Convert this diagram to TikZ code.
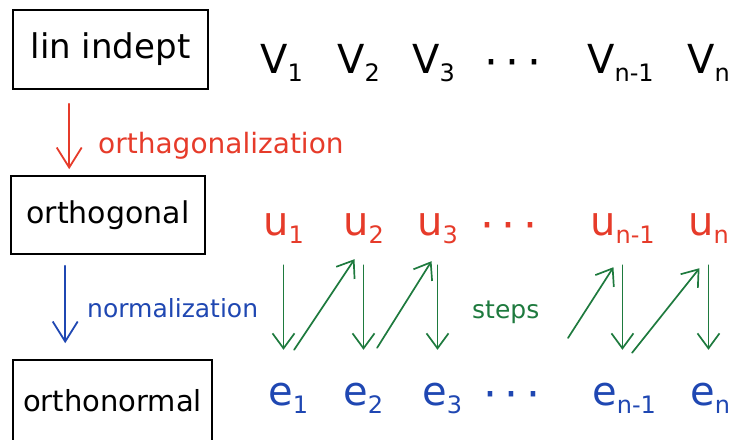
\documentclass[tikz,border=0pt]{standalone}
\usepackage{fontspec}
\setmainfont{DejaVu Sans}
\usetikzlibrary{arrows.meta,calc}
\definecolor{redink}{HTML}{E63B2A}
\definecolor{blueink}{HTML}{1F47B2}
\definecolor{greenink}{HTML}{1E7A3E}
\newcommand\sub[1]{\raisebox{-8pt}{\fontsize{24}{24}\selectfont #1}}
\tikzset{box/.style={draw,line width=1.6pt,inner sep=0pt,font=\fontsize{30}{30}\selectfont},
  sym/.style={inner sep=0pt,anchor=base west,text height=24pt,text depth=8pt,font=\fontsize{40}{40}\selectfont},
  dots/.style={inner sep=0pt,anchor=base,font=\fontsize{44}{44}\selectfont},
  lbl/.style={inner sep=0pt,anchor=base west,font=\fontsize{27}{27}\selectfont},
  arr/.style={line width=1.8pt,line cap=round,-{Straight Barb[length=20pt,width=25pt,line width=1.8pt]}},
  stp/.style={draw=greenink,line width=1.7pt,line cap=round,-{Straight Barb[length=15pt,width=22pt,line width=1.7pt]}}}

\begin{document}
\begin{tikzpicture}[x=1pt,y=-1pt]
\useasboundingbox (0,0) rectangle (733,439);
% the three boxes
\node[box,minimum width=195pt,minimum height=79pt,font=\fontsize{34}{34}\selectfont] (lin) at (110.5,49.5) {lin indept};
\node[box,minimum width=194pt,minimum height=78pt] (orth) at (108,215) {orthogonal};
\node[box,minimum width=199pt,minimum height=82pt,font=\fontsize{29}{29}\selectfont] (onorm) at (112.5,401) {orthonormal};
% vectors
\node[sym] (v1) at (260,73) {V\sub{1}};
\node[sym] (v2) at (337,73) {V\sub{2}};
\node[sym] (v3) at (412,73) {V\sub{3}};
\node[dots] (vdots) at (513,77) {·\hspace{8pt}·\hspace{8pt}·};
\node[sym] (vn1) at (587,73) {V\sub{n-1}};
\node[sym] (vn) at (687,73) {V\sub{n}};
\node[sym,text=redink] (u1) at (263,235) {u\sub{1}};
\node[sym,text=redink] (u2) at (343,235) {u\sub{2}};
\node[sym,text=redink] (u3) at (417,235) {u\sub{3}};
\node[dots,text=redink] (udots) at (509,240) {·\hspace{8pt}·\hspace{8pt}·};
\node[sym,text=redink] (un1) at (590,235) {u\sub{n-1}};
\node[sym,text=redink] (un) at (688,235) {u\sub{n}};
\node[sym,text=blueink] (e1) at (268,405) {e\sub{1}};
\node[sym,text=blueink] (e2) at (343,405) {e\sub{2}};
\node[sym,text=blueink] (e3) at (422,405) {e\sub{3}};
\node[dots,text=blueink] (edots) at (512,409) {·\hspace{8pt}·\hspace{8pt}·};
\node[sym,text=blueink] (en1) at (592,405) {e\sub{n-1}};
\node[sym,text=blueink] (en) at (690,405) {e\sub{n}};
% left arrows
\coordinate (ra) at ([xshift=57pt]lin.south west);
\coordinate (ba) at ([xshift=55pt]orth.south west);
\draw[arr,draw=redink,shorten <=14pt,shorten >=6pt] (ra) -- (ra |- orth.north);
\draw[arr,draw=blueink,shorten <=11pt,shorten >=16pt] (ba) -- (ba |- onorm.north);
\node[lbl,text=redink,font=\fontsize{28}{28}\selectfont] (orthlbl) at (98,153) {orthagonalization};
\node[lbl,text=blueink,font=\fontsize{25}{25}\selectfont] (normlbl) at (87,317) {normalization};
\node[lbl,text=greenink,font=\fontsize{25}{25}\selectfont] (steps) at (472,318) {steps};
% steps
\draw[stp,shorten <=22pt,shorten >=31pt] (u1.south) -- (u1.south |- e1.north);
\draw[stp,shorten <=22pt,shorten >=31pt] (u2.south) -- (u2.south |- e2.north);
\draw[stp,shorten <=22pt,shorten >=31pt] (u3.south) -- (u3.south |- e3.north);
\draw[stp,shorten <=22pt,shorten >=31pt] (un1.south) -- (un1.south |- en1.north);
\draw[stp,shorten <=22pt,shorten >=31pt] (un.south) -- (un.south |- en.north);
\coordinate (dstart) at (568,338);
\draw[stp] ([xshift=6pt,yshift=31pt]e1.north) -- ([xshift=-9pt,yshift=-16pt]u2.south);
\draw[stp] ([xshift=14pt,yshift=33pt]e2.north) -- ([xshift=-6pt,yshift=-18pt]u3.south);
\draw[stp] (dstart) -- ([xshift=-9pt,yshift=-24pt]un1.south);
\draw[stp] ([xshift=8pt,yshift=28pt]en1.north) -- ([xshift=-9pt,yshift=-25pt]un.south);
\end{tikzpicture}
\end{document}
